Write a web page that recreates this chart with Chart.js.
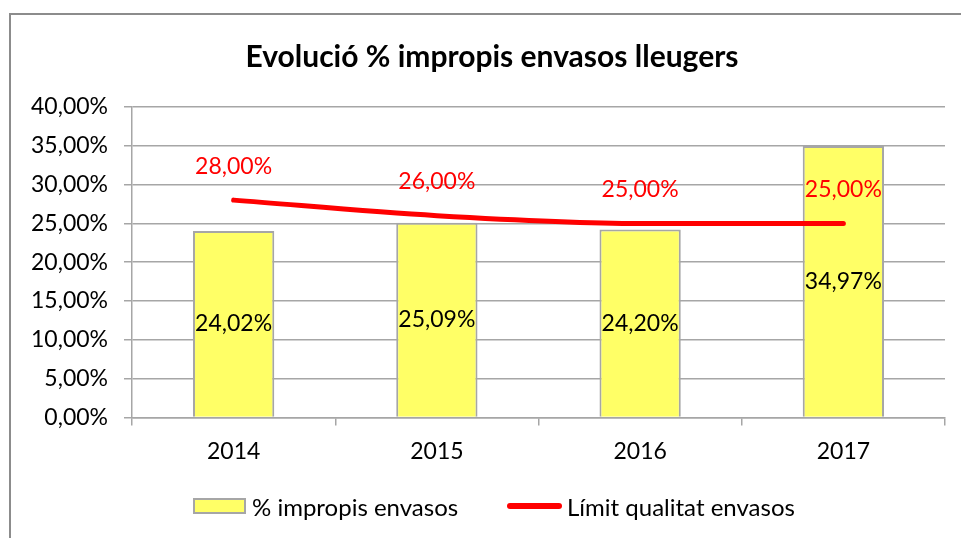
<!DOCTYPE html>
<html>
<head>
<meta charset="utf-8">
<script src="https://cdn.jsdelivr.net/npm/chart.js@4/dist/chart.umd.min.js"></script>
<style>
  html, body { margin: 0; padding: 0; background: #fff; overflow: hidden; }
  #wrap { position: relative; width: 961px; height: 538px; overflow: hidden; font-family: Lato, 'Open Sans', sans-serif; }
  #frame { position: absolute; left: 9px; top: 13px; width: 1000px; height: 600px; border: 2px solid #8c8c8c; box-sizing: border-box; }
  canvas { position: absolute; left: 0; top: 0; }
  #title { position: absolute; left: 192px; width: 600px; top: 36px; text-align: center; font-size: 30px; font-weight: bold; line-height: 38px; color: #000; white-space: nowrap; }
  .leg { position: absolute; top: 491px; height: 30px; display: flex; align-items: center; font-size: 24px; color: #000; white-space: nowrap; }
  .sw-bar { width: 49px; height: 12px; background: #ffff66; border: 2px solid #a6a6a6; margin-right: 6px; }
  .sw-line { width: 55px; height: 6px; background: #ff0000; border-radius: 3px; margin-right: 5px; }
</style>
</head>
<body>
<div id="wrap">
  <div id="frame"></div>
  <canvas id="chart" width="961" height="538"></canvas>
  <div id="title">Evolució % impropis envasos lleugers</div>
  <div class="leg" id="leg0" style="left:193px"><span class="sw-bar"></span><span class="txt"></span></div>
  <div class="leg" id="leg1" style="left:507px"><span class="sw-line"></span><span class="txt"></span></div>
</div>
<script>
const years = ["2014", "2015", "2016", "2017"];
const impropis = [24.02, 25.09, 24.20, 34.97];
const limit = [28.00, 26.00, 25.00, 25.00];
const yTicks = [0, 5, 10, 15, 20, 25, 30, 35, 40];
const seriesNames = ["% impropis envasos", "Límit qualitat envasos"];

const FONT = "Lato, 'Open Sans', sans-serif";
const GRID = "#a6a6a6";

function pct(v) {
  return v.toFixed(2).replace(".", ",") + "%";
}

// value labels: centred inside bars, above the line points
const valueLabels = {
  id: "valueLabels",
  afterDatasetsDraw(chart) {
    const ctx = chart.ctx;
    ctx.save();
    ctx.font = "23px " + FONT;
    ctx.textAlign = "center";
    ctx.textBaseline = "middle";
    chart.data.datasets.forEach((ds, i) => {
      const meta = chart.getDatasetMeta(i);
      meta.data.forEach((el, j) => {
        const v = ds.data[j];
        if (ds.type === "bar") {
          ctx.fillStyle = "#000";
          ctx.fillText(pct(v), el.x, (el.y + el.base) / 2);
        } else {
          ctx.fillStyle = "#ff0000";
          ctx.fillText(pct(v), el.x, el.y - 34);
        }
      });
    });
    ctx.restore();
  }
};

new Chart(document.getElementById("chart").getContext("2d"), {
  data: {
    labels: years,
    datasets: [
      {
        type: "line",
        label: seriesNames[1],
        data: limit,
        borderColor: "#ff0000",
        borderWidth: 5,
        borderCapStyle: "round",
        pointRadius: 0,
        cubicInterpolationMode: "monotone",
        order: 1
      },
      {
        type: "bar",
        label: seriesNames[0],
        data: impropis,
        backgroundColor: "#ffff66",
        borderColor: GRID,
        borderWidth: 2,
        barPercentage: 0.4,
        categoryPercentage: 1,
        order: 2
      }
    ]
  },
  options: {
    responsive: false,
    animation: false,
    layout: { padding: { left: 0, right: 16, top: 107, bottom: 61 } },
    plugins: {
      legend: { display: false },
      tooltip: { enabled: false }
    },
    scales: {
      x: {
        grid: { offset: true, drawOnChartArea: false, color: GRID, tickLength: 8, lineWidth: 1.5 },
        border: { color: GRID, width: 1.5 },
        ticks: { color: "#000", font: { family: FONT, size: 23 }, padding: 12 }
      },
      y: {
        min: 0,
        max: 40,
        afterFit(scale) { scale.width = 132; },
        afterBuildTicks(scale) { scale.ticks = yTicks.map(v => ({ value: v })); },
        grid: { color: GRID, tickLength: 8, lineWidth: 1.5 },
        border: { color: GRID, width: 1.5 },
        ticks: {
          color: "#000",
          font: { family: FONT, size: 23 },
          padding: 16,
          callback: v => pct(v)
        }
      }
    }
  },
  plugins: [valueLabels]
});

document.querySelector("#leg0 .txt").textContent = seriesNames[0];
document.querySelector("#leg1 .txt").textContent = seriesNames[1];
</script>
</body>
</html>
